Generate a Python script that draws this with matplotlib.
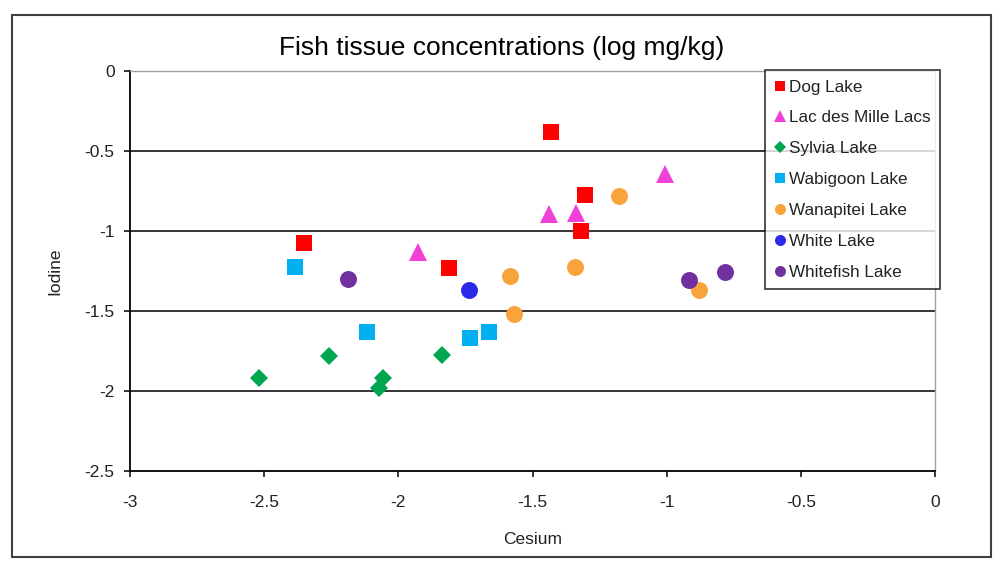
import matplotlib
matplotlib.use("Agg")
import matplotlib.pyplot as plt
from matplotlib.patches import Rectangle

plt.rcParams['font.family'] = ['Liberation Sans', 'DejaVu Sans']
plt.rcParams['axes.unicode_minus'] = False

# series: cesium (x) vs iodine (y), log mg/kg
lakes = ["Dog Lake", "Lac des Mille Lacs", "Sylvia Lake", "Wabigoon Lake",
         "Wanapitei Lake", "White Lake", "Whitefish Lake"]
dog_x = [-2.353, -1.81, -1.43, -1.304, -1.32]
dog_y = [-1.077, -1.23, -0.38, -0.775, -1.003]
mille_x = [-1.927, -1.44, -1.337, -1.008]
mille_y = [-1.132, -0.895, -0.89, -0.644]
sylvia_x = [-2.52, -2.258, -2.056, -2.072, -1.837]
sylvia_y = [-1.916, -1.779, -1.916, -1.983, -1.778]
wabigoon_x = [-2.385, -2.115, -1.732, -1.662]
wabigoon_y = [-1.222, -1.629, -1.666, -1.630]
wanapitei_x = [-1.585, -1.569, -1.343, -1.179, -0.880]
wanapitei_y = [-1.280, -1.520, -1.225, -0.779, -1.366]
white_x = [-1.735]
white_y = [-1.368]
whitefish_x = [-2.189, -0.917, -0.784]
whitefish_y = [-1.303, -1.304, -1.256]

xs = [dog_x, mille_x, sylvia_x, wabigoon_x, wanapitei_x, white_x, whitefish_x]
ys = [dog_y, mille_y, sylvia_y, wabigoon_y, wanapitei_y, white_y, whitefish_y]
colors = ['#FF0000', '#F040D8', '#00A550', '#00B0F0', '#F9A43A', '#2A2AE8', '#7030A0']
markers = ['s', '^', 'D', 's', 'o', 'o', 'o']
sizes = [11.5, 12.5, 8.7, 11.5, 12.2, 12.2, 12.2]

xticks = [-3, -2.5, -2, -1.5, -1, -0.5, 0]
yticks = [0, -0.5, -1, -1.5, -2, -2.5]

fig = plt.figure(figsize=(10, 5.8), dpi=100)
ax = fig.add_axes([0.13, 0.1879, 0.805, 0.6897])

for yv in yticks[1:-1]:
    ax.axhline(yv, color='black', lw=1.1, zorder=1)

for name, x, y, c, m, s in zip(lakes, xs, ys, colors, markers, sizes):
    ax.plot(x, y, linestyle='none', marker=m, markersize=s, color=c,
            markeredgewidth=0, label=name, zorder=3)

ax.set_xlim(-3, 0)
ax.set_ylim(-2.5, 0)
ax.set_xticks(xticks)
ax.set_yticks(yticks)
ax.set_xticklabels(['%g' % v for v in xticks])
ax.set_yticklabels(['%g' % v for v in yticks])
ax.tick_params(direction='out', length=4, width=1.1, color='black',
               labelsize=12.5, labelcolor='#222222')
ax.tick_params(axis='x', pad=13)
ax.tick_params(axis='y', pad=7)

for side in ['left', 'bottom']:
    ax.spines[side].set_color('black')
    ax.spines[side].set_linewidth(1.3)
for side in ['top', 'right']:
    ax.spines[side].set_color('#A0A0A0')
    ax.spines[side].set_linewidth(1.0)

ax.set_xlabel('Cesium', fontsize=12.5, color='#222222', labelpad=16)
ax.set_ylabel('Iodine', fontsize=12.5, color='#222222', labelpad=16)
fig.text(0.502, 0.918, 'Fish tissue concentrations (log mg/kg)',
         ha='center', va='center', fontsize=19, color='black')

leg = ax.legend(loc='upper left', bbox_to_anchor=(0.765, 0.879),
                bbox_transform=fig.transFigure, frameon=True, fancybox=False,
                fontsize=12.3, markerscale=0.65, handlelength=0.6,
                handletextpad=0.25, labelspacing=0.93, borderpad=0.55,
                borderaxespad=0)
leg.get_frame().set_edgecolor('black')
leg.get_frame().set_linewidth(1.2)
for t in leg.get_texts():
    t.set_color('#222222')

fig.patches.append(Rectangle((0.012, 1 - 557 / 580), 0.979, 542 / 580,
                             transform=fig.transFigure, fill=False,
                             edgecolor='#404040', linewidth=1.5))

fig.savefig('out.png', dpi=100)
